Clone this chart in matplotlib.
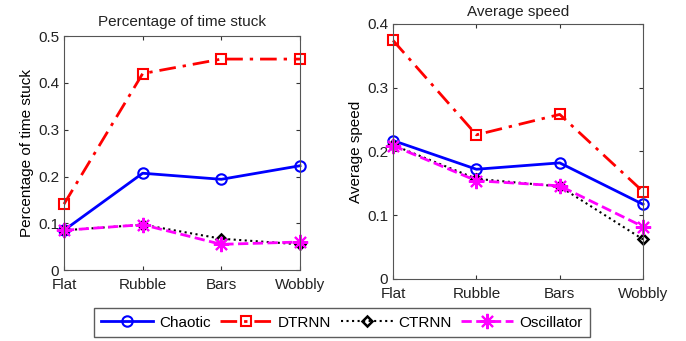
import matplotlib
matplotlib.use("Agg")
import matplotlib.pyplot as plt

terrains = ["Flat", "Rubble", "Bars", "Wobbly"]
series = ["Chaotic", "DTRNN", "CTRNN", "Oscillator"]

# percentage of time stuck
stuck_chaotic = [0.085, 0.207, 0.194, 0.223]
stuck_dtrnn = [0.141, 0.420, 0.451, 0.451]
stuck_ctrnn = [0.085, 0.097, 0.067, 0.055]
stuck_osc = [0.085, 0.097, 0.055, 0.060]

# average speed
speed_chaotic = [0.217, 0.172, 0.182, 0.117]
speed_dtrnn = [0.374, 0.226, 0.258, 0.137]
speed_ctrnn = [0.210, 0.157, 0.145, 0.062]
speed_osc = [0.209, 0.154, 0.146, 0.082]

styles = [
    dict(color="#0000ff", ls="-", lw=2, marker="o", ms=7.5, mfc="none", mew=1.5),
    dict(color="#ff0000", ls=(0, (6, 2.5, 1.2, 2.5)), lw=2, marker="s", ms=7, mfc="none", mew=1.5),
    dict(color="black", ls=":", lw=1.5, marker="D", ms=5.5, mfc="none", mew=1.8),
    dict(color="#ff00ff", ls="--", lw=2, marker=(8, 2, 0), ms=11, mew=1.5),
]

plt.rcParams["font.family"] = "Liberation Sans"
plt.rcParams["font.size"] = 11

fig = plt.figure(figsize=(6.86, 3.41), dpi=100)
ax1 = fig.add_axes([0.0933, 0.208, 0.344, 0.686])
ax2 = fig.add_axes([0.573, 0.182, 0.3644, 0.748])

x = list(range(len(terrains)))

lines = []
for data, st, name in zip([stuck_chaotic, stuck_dtrnn, stuck_ctrnn, stuck_osc], styles, series):
    l, = ax1.plot(x, data, label=name, **st)
    lines.append(l)
for data, st, name in zip([speed_chaotic, speed_dtrnn, speed_ctrnn, speed_osc], styles, series):
    ax2.plot(x, data, label=name, **st)

ax1.set_ylim(0, 0.5)
ax1.set_yticks([0, 0.1, 0.2, 0.3, 0.4, 0.5])
ax1.set_yticklabels(["0", "0.1", "0.2", "0.3", "0.4", "0.5"])
ax1.set_title("Percentage of time stuck", fontsize=11, color="#222222", pad=7)
ax1.set_ylabel("Percentage of time stuck", fontsize=11, labelpad=3)

ax2.set_ylim(0, 0.4)
ax2.set_yticks([0, 0.1, 0.2, 0.3, 0.4])
ax2.set_yticklabels(["0", "0.1", "0.2", "0.3", "0.4"])
ax2.set_title("Average speed", fontsize=11, color="#222222", pad=6)
ax2.set_ylabel("Average speed", fontsize=11, labelpad=3)

for ax in (ax1, ax2):
    ax.set_xlim(0, 3)
    ax.set_xticks(x)
    ax.set_xticklabels(terrains)
    ax.tick_params(direction="in", top=True, right=True, length=3,
                   labelsize=11, colors="#333333", labelcolor="#222222")
    ax.tick_params(axis="x", pad=6)
    for s in ax.spines.values():
        s.set_color("#555555")
        s.set_linewidth(0.8)
    for l in ax.get_lines():
        l.set_clip_on(False)

fig.legend(lines, series, loc="center", ncol=4,
           bbox_to_anchor=(0.4985, 0.054), fancybox=False,
           edgecolor="#333333", fontsize=11, handlelength=3.4,
           handletextpad=0.4, columnspacing=0.6, borderpad=0.5,
           borderaxespad=0)

fig.savefig("out.png", dpi=100)
